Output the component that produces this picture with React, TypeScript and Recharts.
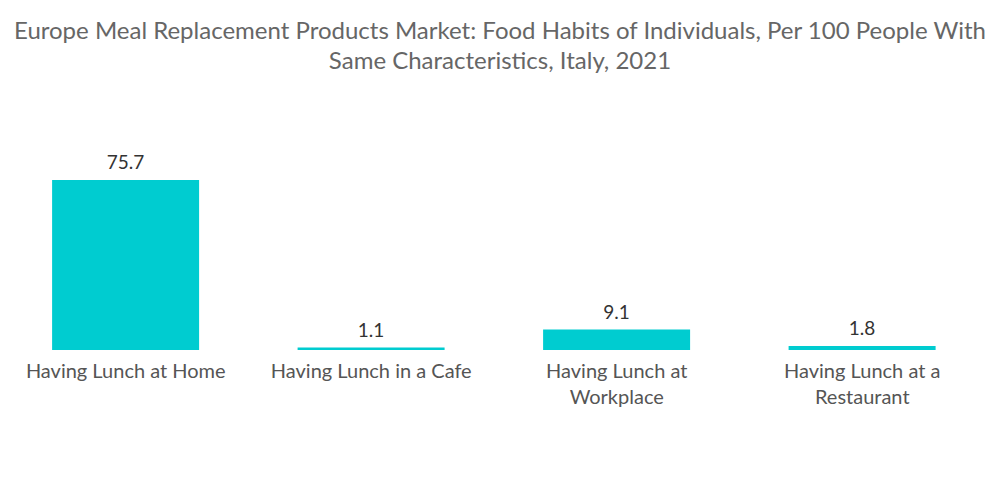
import React from "react";
import { BarChart, Bar, XAxis, YAxis, LabelList } from "recharts";

const categories = [
  "Having Lunch at Home",
  "Having Lunch in a Cafe",
  "Having Lunch at Workplace",
  "Having Lunch at a Restaurant",
];
const values = [75.7, 1.1, 9.1, 1.8];
const titleLines = [
  "Europe Meal Replacement Products Market: Food Habits of Individuals, Per 100 People With",
  "Same Characteristics, Italy, 2021",
];

const data = categories.map((c, i) => ({ name: c, value: values[i] }));
const FONT = "Lato, 'Open Sans', sans-serif";
const TICK_SIZE = 20;
const WRAP_WIDTH = 215;

let ctx: CanvasRenderingContext2D | null = null;
function measure(s: string): number {
  if (!ctx && typeof document !== "undefined") {
    ctx = document.createElement("canvas").getContext("2d");
  }
  if (!ctx) return s.length * TICK_SIZE * 0.5;
  ctx.font = `${TICK_SIZE}px Lato`;
  return ctx.measureText(s).width;
}

function wrap(s: string): string[] {
  const words = s.split(" ");
  const lines: string[] = [];
  let cur = "";
  for (const w of words) {
    const cand = cur ? cur + " " + w : w;
    if (cur && measure(cand) > WRAP_WIDTH) {
      lines.push(cur);
      cur = w;
    } else {
      cur = cand;
    }
  }
  if (cur) lines.push(cur);
  return lines;
}

const Tick = (props: any) => {
  const { x, y, payload } = props;
  const lines = wrap(String(payload.value));
  return (
    <text
      x={x}
      y={y}
      textAnchor="middle"
      fill="#555"
      fontSize={TICK_SIZE}
      fontFamily={FONT}
    >
      {lines.map((l, i) => (
        <tspan key={i} x={x} dy={i === 0 ? 20 : 26}>
          {l}
        </tspan>
      ))}
    </text>
  );
};

export default function App() {
  return (
    <div style={{ margin: -8, position: "relative", width: 1000, height: 504, background: "#fff" }}>
      <div
        style={{
          position: "absolute",
          top: 15,
          left: 0,
          width: 1000,
          textAlign: "center",
          fontFamily: FONT,
          fontSize: 24,
          lineHeight: "30px",
          color: "#666",
        }}
      >
        {titleLines.map((l, i) => (
          <div key={i}>{l}</div>
        ))}
      </div>
      <BarChart
        width={1000}
        height={504}
        data={data}
        margin={{ top: 180, right: 15, bottom: 0, left: 3 }}
        barCategoryGap="20%"
      >
        <YAxis hide domain={[0, "dataMax"]} />
        <XAxis
          dataKey="name"
          axisLine={false}
          tickLine={false}
          tick={<Tick />}
          height={154}
          interval={0}
        />
        <Bar dataKey="value" fill="#00CCD0" isAnimationActive={false}>
          <LabelList
            dataKey="value"
            position="top"
            offset={11}
            fill="#333"
            fontSize={19}
            fontFamily={FONT}
          />
        </Bar>
      </BarChart>
    </div>
  );
}
